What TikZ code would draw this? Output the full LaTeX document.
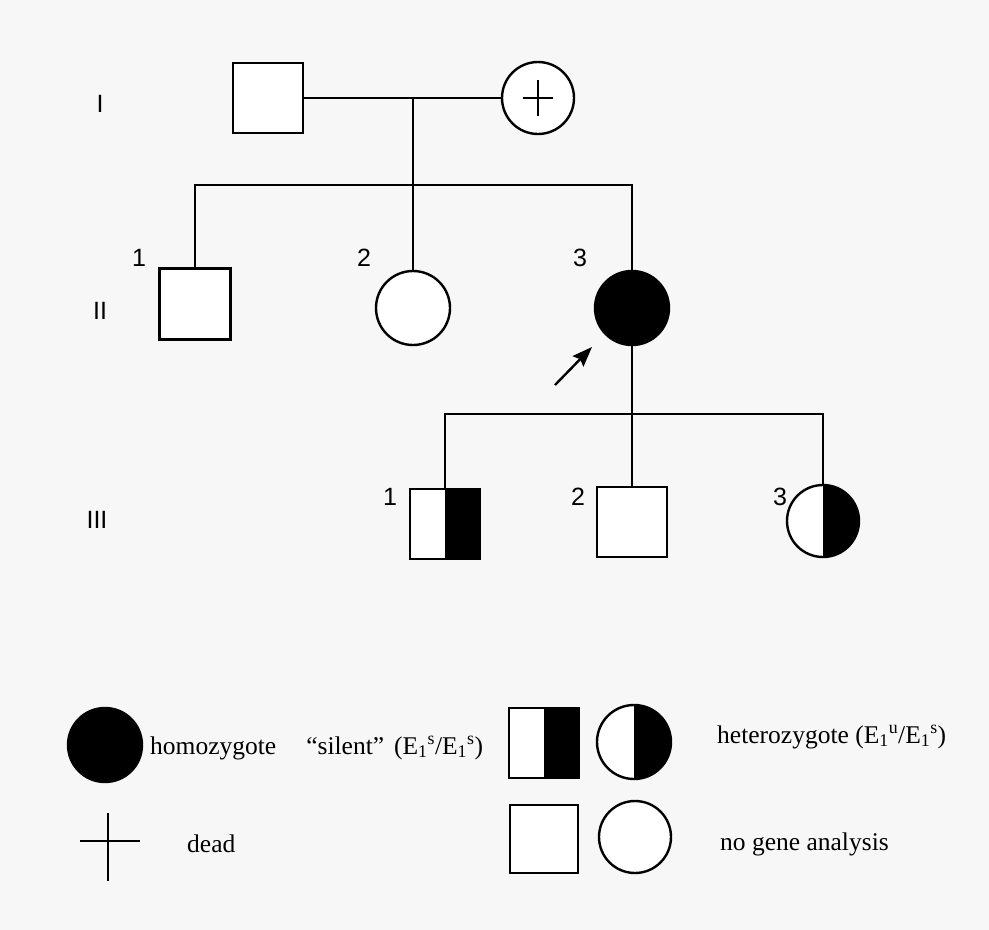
\documentclass[tikz,border=0pt]{standalone}
\usepackage{fontspec}
\setmainfont{Liberation Serif}
\newfontfamily\labfont{Liberation Sans}
\usetikzlibrary{arrows.meta}
\tikzset{
  ln/.style={line width=2.4pt, black},
  male/.style={draw, ln, rectangle, minimum size=70pt, inner sep=0pt, fill=white},
  female/.style={draw, ln, circle, minimum size=74pt, inner sep=0pt, fill=white},
  affected/.style={fill=black},
  halfright/.style={path picture={\fill[black] (path picture bounding box.south) rectangle (path picture bounding box.north east);}},
  deadmark/.style={path picture={\draw[ln] ([xshift=-15pt]path picture bounding box.center) -- ([xshift=15pt]path picture bounding box.center);
      \draw[ln] ([yshift=-18pt]path picture bounding box.center) -- ([yshift=18pt]path picture bounding box.center);}},
  gen/.style={font=\labfont\fontsize{25}{28}\selectfont, inner sep=0pt},
  num/.style={font=\labfont\fontsize{25}{28}\selectfont, inner sep=0pt},
  legtext/.style={font=\fontsize{25.5}{30}\selectfont, inner sep=0pt, anchor=base west},
}
\begin{document}
\begin{tikzpicture}[x=1pt,y=-1pt]
\fill[gray!6] (0,0) rectangle (989,930);
\useasboundingbox (0,0) rectangle (989,930);

% generation labels
\node[gen] (gI) at (100,104) {I};
\node[gen] (gII) at (100,311) {II};
\node[gen] (gIII) at (97,520) {III};

% generation I
\node[male] (I1) at (268,98) {};
\node[female, minimum size=72pt, deadmark] (I2) at (538,98) {};
\coordinate (m1) at (413,98);
\draw[ln] (I1.east) -- (I2.west);

% generation II
\node[male, minimum size=71pt] (II1) at (195,304) {};
\node[female] (II2) at (413,308) {};
\node[female, affected] (II3) at (632,308) {};
\coordinate (sib1) at (413,185);
\draw[ln] (m1) -- (II2.north);
\draw[ln] (II1.north) -- (II1.north |- sib1) -- (II3.north |- sib1) -- (II3.north);
\node[num] (n21) at (139,258) {1};
\node[num] (n22) at (364,258) {2};
\node[num] (n23) at (580,258) {3};
\coordinate (arrs) at (555,385);
\coordinate (arre) at (592,347);
\draw[ln, -{Stealth[length=20pt,width=15pt,inset=3pt]}] (arrs) -- (arre);

% generation III
\node[male, halfright] (III1) at (445,524) {};
\node[male] (III2) at (632,522) {};
\node[female, minimum size=72pt, halfright] (III3) at (823,521) {};
\coordinate (sib2) at (632,414);
\draw[ln] (II3.south) -- (III2.north);
\draw[ln] (III1.north) -- (III1.north |- sib2) -- (III3.north |- sib2) -- (III3.north);
\node[num] (n31) at (390,497) {1};
\node[num] (n32) at (578,497) {2};
\node[num] (n33) at (780,497) {3};

% legend
\node[female, affected] (L1) at (105,745) {};
\node[legtext] (T1) at (150,754) {homozygote\hspace{30pt}“silent”\hspace{10pt}(E\textsubscript{1}\textsuperscript{s}/E\textsubscript{1}\textsuperscript{s})};
\node[male, halfright] (L2) at (544,743) {};
\node[female, halfright] (L3) at (634,742) {};
\node[legtext] (T2) at (717,743) {heterozygote (E\textsubscript{1}\textsuperscript{u}/E\textsubscript{1}\textsuperscript{s})};
\coordinate (c1) at (80,841);
\coordinate (c2) at (140,841);
\coordinate (c3) at (108,813);
\coordinate (c4) at (108,881);
\draw[ln] (c1) -- (c2);
\draw[ln] (c3) -- (c4);
\node[legtext] (T3) at (187,852) {dead};
\node[male, minimum size=68pt] (L5) at (544,839) {};
\node[female, minimum size=72pt] (L6) at (635,837) {};
\node[legtext] (T4) at (720,850) {no gene analysis};
\end{tikzpicture}
\end{document}
